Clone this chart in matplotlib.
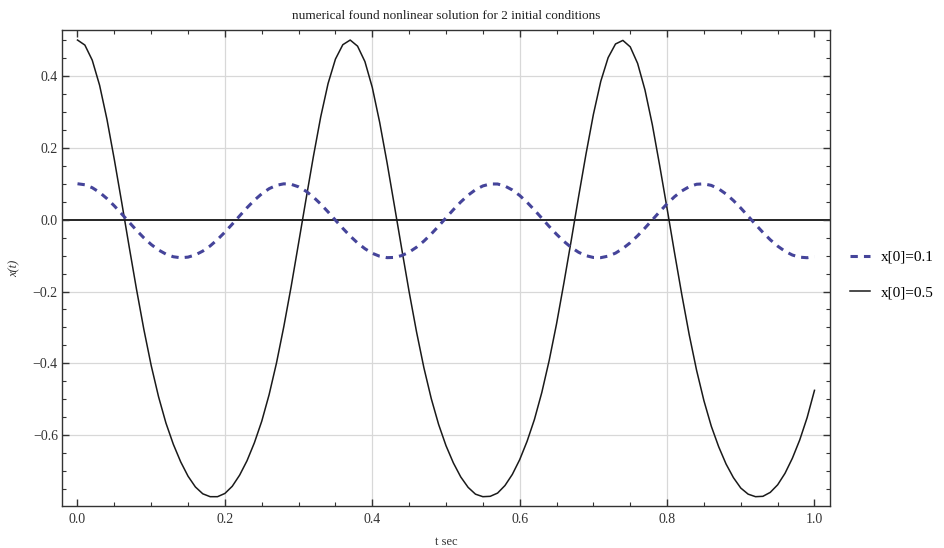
import numpy as np
import matplotlib.pyplot as plt
from matplotlib.ticker import MultipleLocator

# --- values (t step 0.01) ---
t_sec = [round(0.01 * i, 2) for i in range(101)]

x_init_05 = [
    0.500, 0.486, 0.444, 0.374, 0.279, 0.167, 0.048, -0.074, -0.193, -0.305,
    -0.406, -0.493, -0.566, -0.625, -0.674, -0.714, -0.744, -0.763, -0.771, -0.771,
    -0.762, -0.742, -0.711, -0.671, -0.621, -0.561, -0.487, -0.399, -0.297, -0.185,
    -0.065, 0.056, 0.175, 0.286, 0.379, 0.447, 0.487, 0.500, 0.483, 0.440,
    0.368, 0.271, 0.159, 0.039, -0.082, -0.201, -0.312, -0.412, -0.498, -0.570,
    -0.629, -0.677, -0.716, -0.745, -0.764, -0.771, -0.770, -0.761, -0.740, -0.709,
    -0.668, -0.617, -0.556, -0.481, -0.392, -0.290, -0.176, -0.057, 0.065, 0.183,
    0.293, 0.385, 0.451, 0.489, 0.499, 0.481, 0.435, 0.361, 0.264, 0.150,
    0.031, -0.091, -0.209, -0.320, -0.419, -0.504, -0.575, -0.632, -0.680, -0.718,
    -0.747, -0.764, -0.771, -0.770, -0.759, -0.738, -0.706, -0.664, -0.613, -0.551,
    -0.475,
]

x_init_01 = [
    0.1000, 0.0972, 0.0890, 0.0759, 0.0586, 0.0383, 0.0161, -0.0069, -0.0294, -0.0505,
    -0.0691, -0.0844, -0.0958, -0.1032, -0.1060, -0.1042, -0.0980, -0.0874, -0.0731, -0.0552,
    -0.0347, -0.0124, 0.0106, 0.0332, 0.0541, 0.0721, 0.0863, 0.0957, 0.0998, 0.0984,
    0.0914, 0.0794, 0.0631, 0.0435, 0.0216, -0.0014, -0.0241, -0.0456, -0.0648, -0.0808,
    -0.0935, -0.1018, -0.1057, -0.1051, -0.0999, -0.0903, -0.0767, -0.0597, -0.0398, -0.0179,
    0.0051, 0.0278, 0.0492, 0.0681, 0.0833, 0.0939, 0.0994, 0.0993, 0.0936, 0.0827,
    0.0674, 0.0484, 0.0269, 0.0042, -0.0188, -0.0406, -0.0604, -0.0774, -0.0908, -0.1002,
    -0.1052, -0.1057, -0.1015, -0.0931, -0.0802, -0.0641, -0.0448, -0.0232, -0.0005, 0.0224,
    0.0443, 0.0638, 0.0800, 0.0918, 0.0986, 0.0997, 0.0954, 0.0858, 0.0714, 0.0533,
    0.0323, 0.0097, -0.0133, -0.0355, -0.0559, -0.0736, -0.0879, -0.0984, -0.1044, -0.1059,
    -0.1029,
]

labels = ["x[0]=0.1", "x[0]=0.5"]
x_grid = [0.2, 0.4, 0.6, 0.8]
y_grid = [-0.6, -0.4, -0.2, 0.2, 0.4]

plt.rcParams['font.family'] = ['Liberation Serif', 'DejaVu Serif']

fig = plt.figure(figsize=(9.44, 5.48), dpi=100)
ax = fig.add_axes([0.0657, 0.0766, 0.8135, 0.8687])

# light grid and the t axis at x=0
for gx in x_grid:
    ax.axvline(gx, color='#d8d8d8', lw=0.9, zorder=0)
for gy in y_grid:
    ax.axhline(gy, color='#d8d8d8', lw=0.9, zorder=0)
ax.axhline(0.0, color='black', lw=1.2, zorder=1)

ax.plot(t_sec, x_init_01, color='#45449a', lw=2.2,
        linestyle=(0, (2.4, 2.0)), label=labels[0], zorder=3)
ax.plot(t_sec, x_init_05, color='#1a1a1a', lw=1.1, label=labels[1], zorder=2)

ax.set_xlim(-0.021, 1.021)
ax.set_ylim(-0.797, 0.528)

ax.xaxis.set_major_locator(MultipleLocator(0.2))
ax.xaxis.set_minor_locator(MultipleLocator(0.05))
ax.yaxis.set_major_locator(MultipleLocator(0.2))
ax.yaxis.set_minor_locator(MultipleLocator(0.05))
ax.xaxis.set_major_formatter(lambda v, p: f"{v:.1f}".replace('-', '\u2212'))
ax.yaxis.set_major_formatter(lambda v, p: f"{v:.1f}".replace('-', '\u2212'))

ax.tick_params(which='both', direction='in', top=True, right=True,
               color='#333333', labelcolor='#333333', labelsize=10)
ax.tick_params(which='major', length=5, width=1.0)
ax.tick_params(which='minor', length=2.8, width=0.8)
ax.tick_params(axis='x', pad=5)
ax.tick_params(axis='y', pad=3)

for sp in ax.spines.values():
    sp.set_color('#333333')
    sp.set_linewidth(1.0)

ax.set_title("numerical found nonlinear solution for 2 initial conditions",
             fontsize=9.5, color='#222222', pad=8)
ax.set_xlabel("t sec", fontsize=9, color='#333333', labelpad=7)
ax.set_ylabel("x(t)", fontsize=9, style='italic', color='#333333', labelpad=9)

ax.legend(loc='center left', bbox_to_anchor=(1.026, 0.486), frameon=False,
          fontsize=11, handlelength=1.3, handletextpad=0.75, labelspacing=1.4,
          borderpad=0, borderaxespad=0)

fig.savefig("out.png", dpi=100)
